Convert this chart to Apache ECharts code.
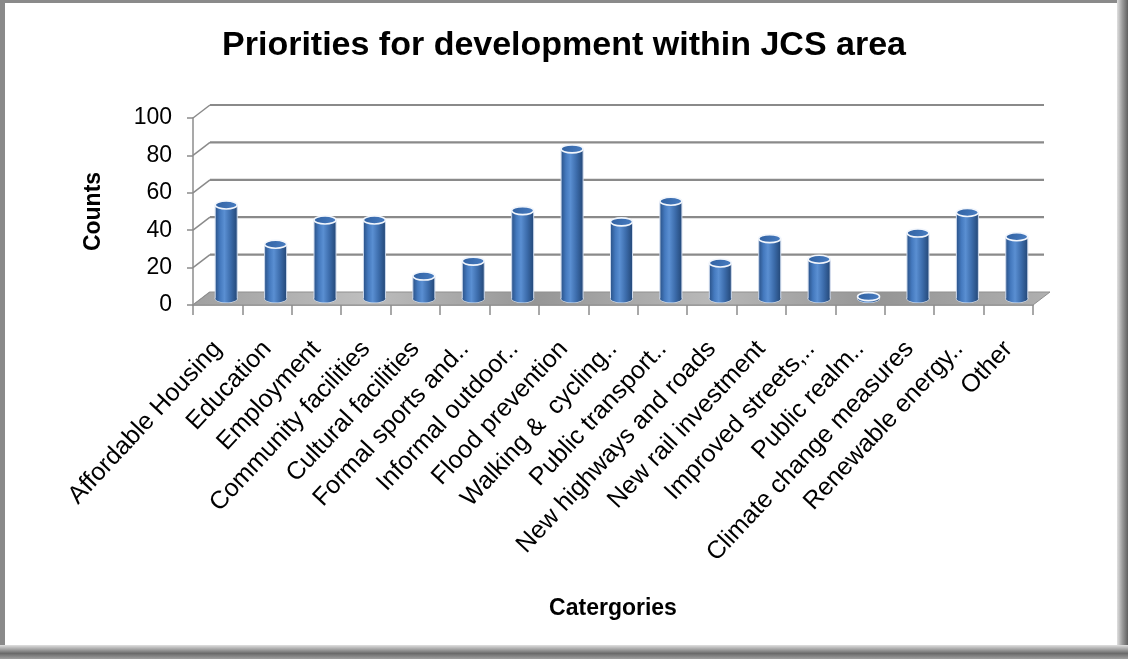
<!DOCTYPE html>
<html><head><meta charset="utf-8">
<script src="https://cdn.jsdelivr.net/npm/echarts@6/dist/echarts.min.js"></script>
<style>html,body{margin:0;padding:0;background:#fff}#c{width:1128px;height:659px}</style>
</head><body><div id="c"></div>
<script>
// ---- data ----
const categories = ["Affordable Housing","Education","Employment","Community facilities","Cultural facilities","Formal sports and..","Informal outdoor..","Flood prevention","Walking &  cycling..","Public transport..","New highways and roads","New rail investment","Improved streets,..","Public realm..","Climate change measures","Renewable energy..","Other"];
const counts = [50, 29, 42, 42, 12, 20, 47, 80, 41, 52, 19, 32, 21, 1, 35, 46, 33];
const yTicks = [0, 20, 40, 60, 80, 100];
const titleText = "Priorities for development within JCS area";
const yName = "Counts";
const xName = "Catergories";

// ---- style ----
const FONT = '"Liberation Sans", Arial, sans-serif';
const DX = 17, DY = -13;          // 3D depth offset
const GRID_COLOR = '#8a8a8a';

const chart = echarts.init(document.getElementById('c'), null, {renderer: 'canvas'});

function renderWall(params, api) {
  const v = api.value(1);
  const p0 = api.coord([0, v]);
  const band = api.size([1, 0])[0];
  const xl = p0[0] - band / 2;
  const xr = api.coord([categories.length - 1, v])[0] + band / 2;
  const y = p0[1];
  const ch = [{type: 'line', shape: {x1: xl, y1: y, x2: xl + DX, y2: y + DY}, style: {stroke: GRID_COLOR, lineWidth: 1.5}}];
  if (v > 0) ch.push({type: 'line', shape: {x1: xl + DX, y1: y + DY, x2: xr + DX - 6, y2: y + DY}, style: {stroke: GRID_COLOR, lineWidth: 2.2}});
  return {type: 'group', children: ch};
}

function renderFloor(params, api) {
  const p0 = api.coord([0, 0]);
  const band = api.size([1, 0])[0];
  const xl = p0[0] - band / 2;
  const xr = api.coord([categories.length - 1, 0])[0] + band / 2;
  const y = p0[1];
  return {type: 'group', children: [
    {type: 'polygon', shape: {points: [[xl, y], [xr, y], [xr + DX, y + DY], [xl + DX, y + DY]]},
     style: {fill: {type: 'linear', x: 0, y: 0, x2: 1, y2: 1, colorStops: [
       {offset: 0, color: '#a0a0a0'}, {offset: 0.2, color: '#bebebe'}, {offset: 0.4, color: '#969696'},
       {offset: 0.6, color: '#b8b8b8'}, {offset: 0.8, color: '#959595'}, {offset: 1, color: '#b0b0b0'}]},
       stroke: '#8f8f8f', lineWidth: 1}},
  ]};
}

function renderCyl(params, api) {
  const top = api.coord([api.value(0), api.value(1)]);
  const base = api.coord([api.value(0), 0]);
  const w = 22, eh = 8;
  const cx = top[0];
  const body = {type: 'linear', x: 0, y: 0, x2: 1, y2: 0, colorStops: [
    {offset: 0, color: '#2a5288'}, {offset: 0.22, color: '#4479be'}, {offset: 0.42, color: '#5a8fd2'},
    {offset: 0.7, color: '#3c6cab'}, {offset: 1, color: '#244878'}]};
  const h = Math.max(base[1] - top[1], 0);
  return {type: 'group', children: [
    {type: 'ellipse', shape: {cx: cx, cy: base[1], rx: w / 2 + 0.5, ry: eh / 2 + 0.5}, style: {fill: '#dfe8f4'}},
    {type: 'ellipse', shape: {cx: cx, cy: base[1], rx: w / 2, ry: eh / 2}, style: {fill: body}},
    {type: 'rect', shape: {x: cx - w / 2, y: top[1], width: w, height: h}, style: {fill: body}},
    {type: 'line', shape: {x1: cx - w / 2, y1: top[1], x2: cx - w / 2, y2: base[1]}, style: {stroke: '#cdd9ec', lineWidth: 1}},
    {type: 'line', shape: {x1: cx + w / 2, y1: top[1], x2: cx + w / 2, y2: base[1]}, style: {stroke: '#cdd9ec', lineWidth: 1}},
    {type: 'ellipse', shape: {cx: cx, cy: top[1], rx: w / 2, ry: eh / 2},
     style: {fill: {type: 'linear', x: 0, y: 0, x2: 1, y2: 1, colorStops: [{offset: 0, color: '#2f5f9f'}, {offset: 1, color: '#4a7fc4'}]},
       stroke: '#f2f6fc', lineWidth: 1.6}}
  ]};
}

const option = {
  backgroundColor: '#ffffff',
  animation: false,
  graphic: [
    {type: 'rect', z: -10, shape: {x: 0, y: 0, width: 1128, height: 659}, style: {fill: '#8a8a8a'}},
    {type: 'rect', z: -9, shape: {x: 1117, y: 0, width: 11, height: 659},
     style: {fill: {type: 'linear', x: 0, y: 0, x2: 1, y2: 0, colorStops: [{offset: 0, color: '#e0e0e0'}, {offset: 0.5, color: '#9a9a9a'}, {offset: 1, color: '#606060'}]}}},
    {type: 'rect', z: -9, shape: {x: 0, y: 645, width: 1128, height: 14},
     style: {fill: {type: 'linear', x: 0, y: 0, x2: 0, y2: 1, colorStops: [{offset: 0, color: '#e0e0e0'}, {offset: 0.6, color: '#6a6a6a'}, {offset: 1, color: '#a0a0a0'}]}}},
    {type: 'rect', z: -8, shape: {x: 5, y: 3, width: 1112, height: 642}, style: {fill: '#ffffff'}}
  ],
  title: {text: titleText, left: 'center', top: 24,
    textStyle: {fontFamily: FONT, fontSize: 34, fontWeight: 'bold', color: '#000'}},
  grid: [
    {left: 193, right: 95, top: 118, bottom: 354},
    {left: 201.5, right: 86.5, top: 111.5, bottom: 360.5}
  ],
  xAxis: [
    {type: 'category', gridIndex: 0, data: categories, boundaryGap: true,
     name: xName, nameLocation: 'middle', nameGap: 292,
     nameTextStyle: {fontFamily: FONT, fontSize: 23, fontWeight: 'bold', color: '#000'},
     axisLine: {show: true, lineStyle: {color: '#8c8c8c', width: 1.5}},
     axisTick: {show: true, interval: 0, length: 10, lineStyle: {color: '#8c8c8c', width: 1.5}},
     axisLabel: {interval: 0, rotate: 47, margin: 40, fontFamily: FONT, fontSize: 25, color: '#000'}},
    {type: 'category', gridIndex: 1, data: categories, show: false}
  ],
  yAxis: [
    {type: 'value', gridIndex: 0, min: 0, max: 100, interval: 20,
     name: yName, nameLocation: 'middle', nameGap: 88, nameRotate: 90,
     nameTextStyle: {fontFamily: FONT, fontSize: 23, fontWeight: 'bold', color: '#000'},
     axisLine: {show: true, lineStyle: {color: '#8c8c8c', width: 1.5}},
     axisTick: {show: true, length: 6, lineStyle: {color: '#8c8c8c', width: 1.5}},
     splitLine: {show: false},
     axisLabel: {margin: 21, fontFamily: FONT, fontSize: 23, color: '#000'}},
    {type: 'value', gridIndex: 1, min: 0, max: 100, interval: 20, show: false, splitLine: {show: false}}
  ],
  series: [
    {type: 'custom', name: 'wall', xAxisIndex: 0, yAxisIndex: 0, z: 1, silent: true,
     data: yTicks.map(v => [0, v]), renderItem: renderWall},
    {type: 'custom', name: 'floor', xAxisIndex: 0, yAxisIndex: 0, z: 2, silent: true,
     data: [[0, 0]], renderItem: renderFloor},
    {type: 'custom', name: 'Counts', xAxisIndex: 1, yAxisIndex: 1, z: 3,
     data: counts.map((v, i) => [i, v]), renderItem: renderCyl}
  ]
};
chart.setOption(option);
</script></body></html>
